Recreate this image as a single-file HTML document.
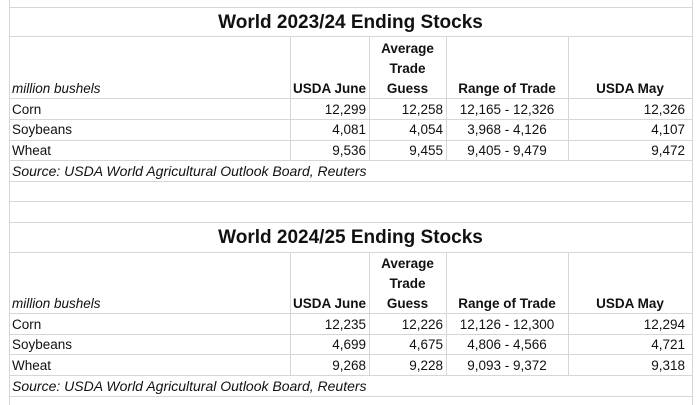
<!DOCTYPE html>
<html><head><meta charset="utf-8"><style>
body{margin:0;width:700px;height:405px;background:#fff;position:relative;overflow:hidden;font-family:"Liberation Sans",sans-serif;color:#111}
.h{position:absolute;left:9px;width:683px;height:1px;background:#d6d6d6}
.v{position:absolute;width:1px;background:#d6d6d6}
.t{position:absolute;font-size:13.5px;line-height:16px;white-space:nowrap}
.b{font-weight:bold}
.i{font-style:italic}
.s{font-size:14px}
.r{text-align:right}
.c{text-align:center}
.title{position:absolute;left:9px;width:683px;text-align:center;font-weight:bold;font-size:19px;line-height:22px}
</style></head><body>
<div class="v" style="left:9px;top:0;height:405px"></div>
<div class="v" style="left:692px;top:0;height:405px"></div>
<div class="h" style="top:201px"></div>

<!-- block 1 -->
<div class="h" style="top:7px"></div>
<div class="h" style="top:36px"></div>
<div class="h" style="top:98px"></div>
<div class="h" style="top:119px"></div>
<div class="h" style="top:140px"></div>
<div class="h" style="top:160px"></div>
<div class="h" style="top:181px"></div>
<div class="v" style="left:290px;top:36px;height:125px"></div>
<div class="v" style="left:369px;top:36px;height:125px"></div>
<div class="v" style="left:446px;top:36px;height:125px"></div>
<div class="v" style="left:568px;top:36px;height:125px"></div>
<div class="title" style="top:12px">World 2023/24 Ending Stocks</div>
<div class="t i" style="left:12px;top:81px">million bushels</div>
<div class="t b r" style="left:290px;width:76px;top:81px">USDA June</div>
<div class="t b c" style="left:369px;width:77px;top:41px">Average</div>
<div class="t b c" style="left:369px;width:77px;top:61px">Trade</div>
<div class="t b c" style="left:369px;width:77px;top:81px">Guess</div>
<div class="t b c" style="left:446px;width:122px;top:81px">Range of Trade</div>
<div class="t b c" style="left:568px;width:124px;top:81px">USDA May</div>
<div class="t" style="left:12px;top:102px">Corn</div>
<div class="t" style="left:12px;top:122px">Soybeans</div>
<div class="t" style="left:12px;top:143px">Wheat</div>
<div class="t r" style="left:290px;width:76px;top:102px">12,299</div>
<div class="t r" style="left:290px;width:76px;top:122px">4,081</div>
<div class="t r" style="left:290px;width:76px;top:143px">9,536</div>
<div class="t r" style="left:369px;width:74px;top:102px">12,258</div>
<div class="t r" style="left:369px;width:74px;top:122px">4,054</div>
<div class="t r" style="left:369px;width:74px;top:143px">9,455</div>
<div class="t c" style="left:446px;width:122px;top:102px">12,165 - 12,326</div>
<div class="t c" style="left:446px;width:122px;top:122px">3,968 - 4,126</div>
<div class="t c" style="left:446px;width:122px;top:143px">9,405 - 9,479</div>
<div class="t r" style="left:568px;width:117px;top:102px">12,326</div>
<div class="t r" style="left:568px;width:117px;top:122px">4,107</div>
<div class="t r" style="left:568px;width:117px;top:143px">9,472</div>
<div class="t i s" style="left:12px;top:163px">Source: USDA World Agricultural Outlook Board, Reuters</div>

<!-- block 2 -->
<div class="h" style="top:222px"></div>
<div class="h" style="top:252px"></div>
<div class="h" style="top:313px"></div>
<div class="h" style="top:334px"></div>
<div class="h" style="top:354px"></div>
<div class="h" style="top:375px"></div>
<div class="h" style="top:396px"></div>
<div class="v" style="left:290px;top:252px;height:124px"></div>
<div class="v" style="left:369px;top:252px;height:124px"></div>
<div class="v" style="left:446px;top:252px;height:124px"></div>
<div class="v" style="left:568px;top:252px;height:124px"></div>
<div class="title" style="top:227px">World 2024/25 Ending Stocks</div>
<div class="t i" style="left:12px;top:296px">million bushels</div>
<div class="t b r" style="left:290px;width:76px;top:296px">USDA June</div>
<div class="t b c" style="left:369px;width:77px;top:256px">Average</div>
<div class="t b c" style="left:369px;width:77px;top:276px">Trade</div>
<div class="t b c" style="left:369px;width:77px;top:296px">Guess</div>
<div class="t b c" style="left:446px;width:122px;top:296px">Range of Trade</div>
<div class="t b c" style="left:568px;width:124px;top:296px">USDA May</div>
<div class="t" style="left:12px;top:317px">Corn</div>
<div class="t" style="left:12px;top:337px">Soybeans</div>
<div class="t" style="left:12px;top:358px">Wheat</div>
<div class="t r" style="left:290px;width:76px;top:317px">12,235</div>
<div class="t r" style="left:290px;width:76px;top:337px">4,699</div>
<div class="t r" style="left:290px;width:76px;top:358px">9,268</div>
<div class="t r" style="left:369px;width:74px;top:317px">12,226</div>
<div class="t r" style="left:369px;width:74px;top:337px">4,675</div>
<div class="t r" style="left:369px;width:74px;top:358px">9,228</div>
<div class="t c" style="left:446px;width:122px;top:317px">12,126 - 12,300</div>
<div class="t c" style="left:446px;width:122px;top:337px">4,806 - 4,566</div>
<div class="t c" style="left:446px;width:122px;top:358px">9,093 - 9,372</div>
<div class="t r" style="left:568px;width:117px;top:317px">12,294</div>
<div class="t r" style="left:568px;width:117px;top:337px">4,721</div>
<div class="t r" style="left:568px;width:117px;top:358px">9,318</div>
<div class="t i s" style="left:12px;top:378px">Source: USDA World Agricultural Outlook Board, Reuters</div>
</body></html>
